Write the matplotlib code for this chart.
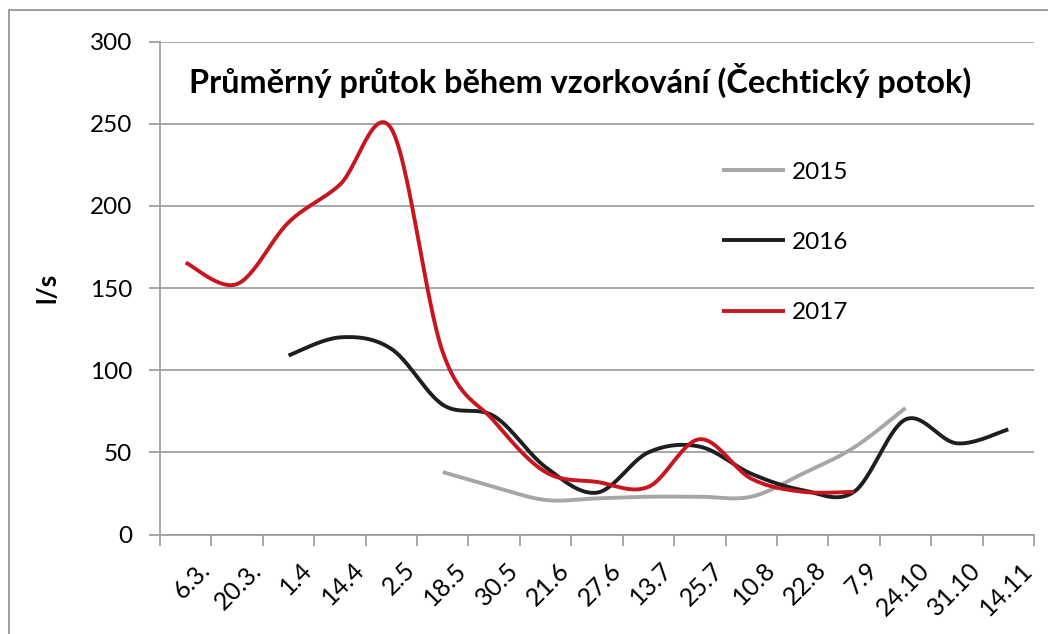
import numpy as np
import matplotlib
matplotlib.use("Agg")
import matplotlib.pyplot as plt
import matplotlib.transforms as mtransforms
from matplotlib.patches import Rectangle

plt.rcParams['font.family'] = ['Lato', 'DejaVu Sans']

dates = ["6.3.", "20.3.", "1.4", "14.4", "2.5", "18.5", "30.5", "21.6", "27.6",
         "13.7", "25.7", "10.8", "22.8", "7.9", "24.10", "31.10", "14.11"]
nan = np.nan
q2015 = [nan, nan, nan, nan, nan, 38, 29, 21, 22, 23, 23, 23, 37, 53, 77, nan, nan]
q2016 = [nan, nan, 109, 120, 113, 79, 72, 41, 25.5, 50, 53.5, 37, 27, 26, 70, 55.5, 64]
q2017 = [165.5, 152.5, 190, 213, 247, 111, 69, 38, 32, 29, 58, 34, 26, 26, nan, nan, nan]

title = "Průměrný průtok během vzorkování (Čechtický potok)"


def smooth(xs, ys, n=30):
    # excel-like smoothed line (catmull-rom through the points)
    xs = np.asarray(xs, float)
    ys = np.asarray(ys, float)
    px, py = [], []
    for i in range(len(xs) - 1):
        i0 = max(i - 1, 0)
        i3 = min(i + 2, len(xs) - 1)
        p0 = np.array([xs[i], ys[i]])
        p3 = np.array([xs[i + 1], ys[i + 1]])
        c1 = p0 + (np.array([xs[i + 1], ys[i + 1]]) - np.array([xs[i0], ys[i0]])) / 6
        c2 = p3 - (np.array([xs[i3], ys[i3]]) - np.array([xs[i], ys[i]])) / 6
        t = np.linspace(0, 1, n)[:, None]
        b = (1 - t) ** 3 * p0 + 3 * (1 - t) ** 2 * t * c1 + 3 * (1 - t) * t ** 2 * c2 + t ** 3 * p3
        px.extend(b[:, 0])
        py.extend(b[:, 1])
    return px, py


fig = plt.figure(figsize=(10.48, 6.34), dpi=100)
ax = fig.add_axes([160 / 1048, 1 - 534.5 / 634, (1034 - 160) / 1048, (534.5 - 41.7) / 634])

x = np.arange(len(dates))
series = [(q2015, "#A6A6A6", "2015"), (q2016, "#1C1F22", "2016"), (q2017, "#C8161E", "2017")]
for vals, col, lab in series:
    v = np.array(vals, float)
    m = ~np.isnan(v)
    sx, sy = smooth(x[m], v[m])
    ax.plot(sx, sy, color=col, lw=2.8, label=lab, solid_capstyle='butt')

ax.set_xlim(-0.5, len(dates) - 0.5)
ax.set_ylim(0, 300)
ax.set_yticks(np.arange(0, 301, 50))
ax.grid(axis='y', color='#A0A0A0', lw=1.3)
ax.set_axisbelow(True)
for s in ['top', 'right']:
    ax.spines[s].set_visible(False)
ax.spines['left'].set_color('#A0A0A0')
ax.spines['bottom'].set_color('#A0A0A0')
ax.spines['left'].set_linewidth(1.3)
ax.spines['bottom'].set_linewidth(1.3)

ax.set_xticks(np.arange(-0.5, len(dates), 1))
ax.set_xticklabels([])
ax.set_xticks(x, minor=True)
ax.set_xticklabels(dates, minor=True, rotation=45, ha='right', rotation_mode='anchor', fontsize=18)
ax.tick_params(axis='x', which='major', length=8, color='#A0A0A0', width=1.3)
ax.tick_params(axis='x', which='minor', length=0, pad=17)
ax.tick_params(axis='y', length=8, color='#A0A0A0', width=1.3, labelsize=17.5, pad=12)
off = mtransforms.ScaledTranslation(12 / 100, 0, fig.dpi_scale_trans)
for lbl in ax.get_xticklabels(minor=True):
    lbl.set_transform(lbl.get_transform() + off)

ax.set_ylabel("l/s", fontsize=19, fontweight='bold', labelpad=22)
ax.text(0.481, 0.922, title, transform=ax.transAxes, ha='center', va='center',
        fontsize=23.3, fontweight='bold')

leg = ax.legend(loc='upper left', bbox_to_anchor=(700 / 1048, 1 - 140 / 634),
                bbox_transform=fig.transFigure, frameon=False, fontsize=17.5,
                handlelength=2.6, handletextpad=0.3, labelspacing=2.02)

fig.patches.append(Rectangle((9 / 1048, -0.01), 1.02, 1 - 10 / 634 + 0.01, transform=fig.transFigure,
                             fill=False, edgecolor='#8C8C8C', lw=1.2))

fig.savefig("out.png", dpi=100)
